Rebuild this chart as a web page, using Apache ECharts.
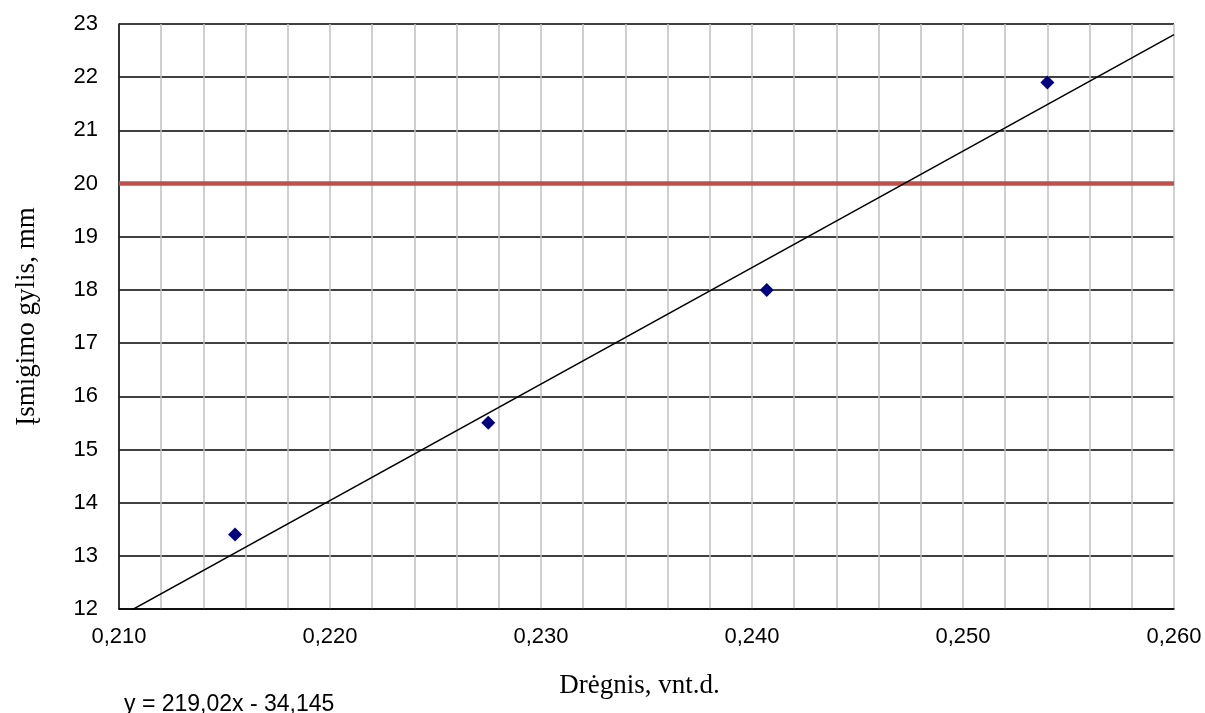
<!DOCTYPE html>
<html>
<head>
<meta charset="utf-8">
<script src="https://cdn.jsdelivr.net/npm/echarts@6/dist/echarts.min.js"></script>
<style>
  html, body { margin: 0; padding: 0; background: #ffffff; }
  #chart { width: 1205px; height: 713px; }
</style>
</head>
<body>
<div id="chart"></div>
<script>
// Measured moisture (x) and penetration depth (y)
const moisture = [0.2155, 0.2275, 0.2407, 0.2540];
const depth = [13.4, 15.5, 18.0, 21.9];

// Linear trend y = a*x + b, as printed under the chart
const trendSlope = 219.02;
const trendIntercept = -34.145;
const trendLabel = 'y = 219,02x - 34,145';

// Limit depth line
const limitDepth = 20;

// Axis ranges
const xRange = [0.21, 0.26];
const yRange = [12, 23];

const points = moisture.map((x, i) => [x, depth[i]]);
const trendPoints = xRange.map(x => [x, trendSlope * x + trendIntercept]);
const limitPoints = xRange.map(x => [x, limitDepth]);

const chart = echarts.init(document.getElementById('chart'), null, { renderer: 'canvas' });

chart.setOption({
  animation: false,
  backgroundColor: '#ffffff',
  grid: {
    left: 119, right: 31, top: 24, bottom: 104,
    containLabel: false,
    outerBoundsMode: 'none'
  },
  xAxis: {
    type: 'value',
    min: xRange[0],
    max: xRange[1],
    interval: 0.01,
    name: 'Drėgnis, vnt.d.',
    nameLocation: 'middle',
    nameGap: 63,
    nameTextStyle: {
      fontFamily: 'Liberation Serif',
      fontSize: 27,
      color: '#000',
      padding: [0, 14, 0, 0]
    },
    axisLine: { show: true, onZero: false, lineStyle: { color: '#000', width: 1.5 } },
    axisTick: { show: false },
    minorTick: { show: false, splitNumber: 5 },
    axisLabel: {
      margin: 17,
      fontFamily: 'Liberation Sans',
      fontSize: 22,
      color: '#000',
      formatter: v => v.toFixed(3).replace('.', ',')
    },
    splitLine: { show: true, lineStyle: { color: '#c0c0c0', width: 1.5 } },
    minorSplitLine: { show: true, lineStyle: { color: '#c0c0c0', width: 1.5 } }
  },
  yAxis: {
    type: 'value',
    min: yRange[0],
    max: yRange[1],
    interval: 1,
    name: 'Įsmigimo gylis, mm',
    nameLocation: 'middle',
    nameGap: 79,
    nameTextStyle: { fontFamily: 'Liberation Serif', fontSize: 27, color: '#000' },
    axisLine: { show: true, onZero: false, lineStyle: { color: '#000', width: 1.5 } },
    axisTick: { show: false },
    axisLabel: {
      margin: 21,
      fontFamily: 'Liberation Sans',
      fontSize: 22,
      color: '#000'
    },
    splitLine: { show: true, lineStyle: { color: '#000', width: 1.5 } }
  },
  series: [
    {
      type: 'line',
      data: limitPoints,
      symbol: 'none',
      lineStyle: { color: '#c0504d', width: 4.5 },
      z: 3
    },
    {
      type: 'line',
      data: trendPoints,
      symbol: 'none',
      clip: true,
      lineStyle: { color: '#000', width: 1.5 },
      z: 4
    },
    {
      type: 'scatter',
      data: points,
      symbol: 'diamond',
      symbolSize: 14,
      itemStyle: { color: '#000080', opacity: 1 },
      z: 5
    }
  ],
  graphic: [
    {
      type: 'text',
      left: 124,
      top: 693,
      style: {
        text: trendLabel,
        fontFamily: 'Liberation Sans',
        fontSize: 23,
        fill: '#000'
      }
    }
  ]
});
</script>
</body>
</html>
